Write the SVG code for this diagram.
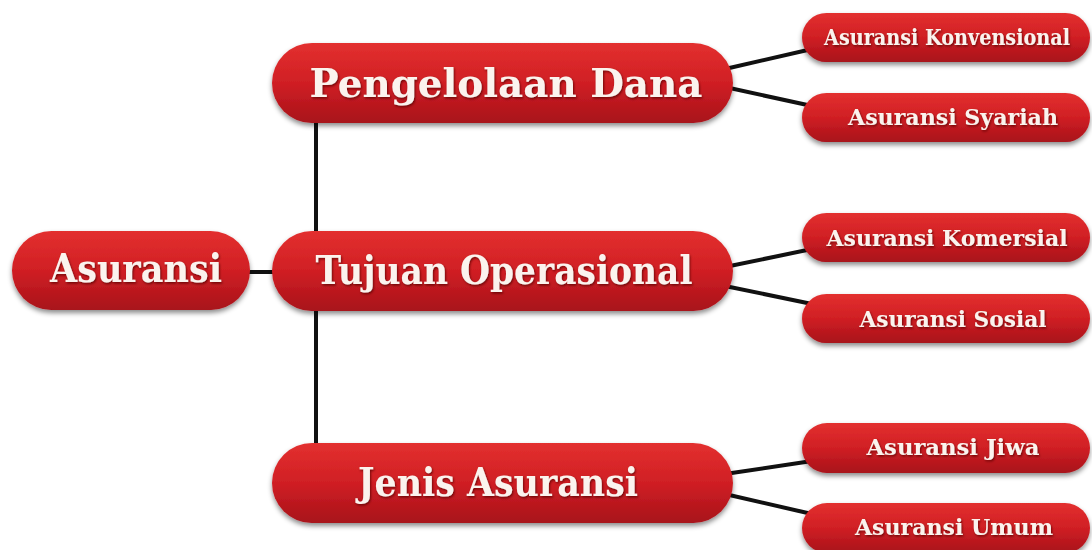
<svg xmlns="http://www.w3.org/2000/svg" width="1092" height="550" viewBox="0 0 1092 550">
<defs>
<linearGradient id="g" x1="0" y1="0" x2="0" y2="1">
<stop offset="0" stop-color="#e3302f"/>
<stop offset="0.5" stop-color="#d01f24"/>
<stop offset="1" stop-color="#a8121a"/>
</linearGradient>
<filter id="sh" x="-10%" y="-20%" width="120%" height="150%">
<feDropShadow dx="0" dy="3" stdDeviation="2.5" flood-color="#000" flood-opacity="0.45"/>
</filter>
<filter id="ts" x="-5%" y="-20%" width="110%" height="150%">
<feDropShadow dx="1" dy="1.5" stdDeviation="0.8" flood-color="#5a0000" flood-opacity="0.8"/>
</filter>
</defs>
<style>
.box{fill:url(#g);filter:url(#sh)}
.t{fill:#fbf3ee;font-family:"DejaVu Serif","Liberation Serif",serif;font-weight:bold;text-anchor:middle;filter:url(#ts)}
.big{font-size:40px}
.sm{font-size:22px}
.c{stroke:#111;stroke-width:4;fill:none}
</style>
<rect width="1092" height="550" fill="#fff"/>
<g id="connectors">
<line class="c" x1="316" y1="110" x2="316" y2="460"/>
<line class="c" x1="240" y1="272" x2="290" y2="272"/>
<line class="c" x1="725" y1="69" x2="812" y2="49"/>
<line class="c" x1="725" y1="87" x2="812" y2="106"/>
<line class="c" x1="725" y1="267" x2="812" y2="249"/>
<line class="c" x1="725" y1="286" x2="812" y2="304"/>
<line class="c" x1="725" y1="474" x2="812" y2="461"/>
<line class="c" x1="725" y1="494" x2="812" y2="514"/>
</g>
<g id="asuransi">
<rect class="box" x="12" y="231" width="238" height="79" rx="39.5"/>
<text class="t big" x="136" y="282" textLength="172" lengthAdjust="spacingAndGlyphs">Asuransi</text>
</g>
<g id="pengelolaan-dana">
<rect class="box" x="272" y="43" width="461" height="80" rx="40"/>
<text class="t big" x="506" y="97" textLength="393" lengthAdjust="spacingAndGlyphs">Pengelolaan Dana</text>
</g>
<g id="tujuan-operasional">
<rect class="box" x="272" y="231" width="461" height="80" rx="40"/>
<text class="t big" x="504" y="284" textLength="377" lengthAdjust="spacingAndGlyphs">Tujuan Operasional</text>
</g>
<g id="jenis-asuransi">
<rect class="box" x="272" y="443" width="461" height="80" rx="40"/>
<text class="t big" x="498" y="496" textLength="280" lengthAdjust="spacingAndGlyphs">Jenis Asuransi</text>
</g>
<g id="asuransi-konvensional">
<rect class="box" x="802" y="13" width="288" height="49" rx="24.5"/>
<text class="t sm" x="947" y="45" textLength="246" lengthAdjust="spacingAndGlyphs">Asuransi Konvensional</text>
</g>
<g id="asuransi-syariah">
<rect class="box" x="802" y="93" width="288" height="49" rx="24.5"/>
<text class="t sm" x="953" y="125" textLength="210" lengthAdjust="spacingAndGlyphs">Asuransi Syariah</text>
</g>
<g id="asuransi-komersial">
<rect class="box" x="802" y="213" width="288" height="49" rx="24.5"/>
<text class="t sm" x="947" y="246" textLength="241" lengthAdjust="spacingAndGlyphs">Asuransi Komersial</text>
</g>
<g id="asuransi-sosial">
<rect class="box" x="802" y="294" width="288" height="49" rx="24.5"/>
<text class="t sm" x="953" y="327" textLength="187" lengthAdjust="spacingAndGlyphs">Asuransi Sosial</text>
</g>
<g id="asuransi-jiwa">
<rect class="box" x="802" y="423" width="288" height="50" rx="25"/>
<text class="t sm" x="953" y="455" textLength="173" lengthAdjust="spacingAndGlyphs">Asuransi Jiwa</text>
</g>
<g id="asuransi-umum">
<rect class="box" x="802" y="503" width="288" height="50" rx="25"/>
<text class="t sm" x="954" y="535" textLength="198" lengthAdjust="spacingAndGlyphs">Asuransi Umum</text>
</g>
</svg>
